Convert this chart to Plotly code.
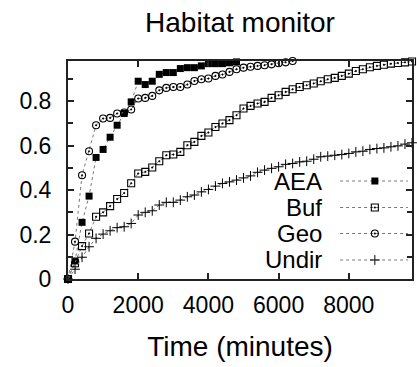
import plotly.graph_objects as go

TIME = [0, 200, 400, 600, 800, 1000, 1200, 1400, 1600, 1800,
        2000, 2200, 2400, 2600, 2800, 3000, 3200, 3400, 3600, 3800,
        4000, 4200, 4400, 4600, 4800, 5000, 5200, 5400, 5600, 5800,
        6000, 6200, 6400, 6600, 6800, 7000, 7200, 7400, 7600, 7800,
        8000, 8200, 8400, 8600, 8800, 9000, 9200, 9400, 9600, 9800]

AEA = [0, 0.081, 0.255, 0.373, 0.547, 0.583, 0.638, 0.692, 0.745, 0.797,
       0.890, 0.875, 0.890, 0.921, 0.929, 0.929, 0.947, 0.951, 0.951, 0.959,
       0.969, 0.969, 0.969, 0.973, 0.977]

GEO = [0, 0.168, 0.467, 0.575, 0.692, 0.722, 0.725, 0.745, 0.749, 0.763,
       0.812, 0.815, 0.824, 0.849, 0.860, 0.864, 0.864, 0.875, 0.891, 0.899,
       0.902, 0.914, 0.920, 0.932, 0.944, 0.951, 0.955, 0.959, 0.962, 0.966,
       0.971, 0.975, 0.981]

BUF = [0, 0.071, 0.148, 0.205, 0.280, 0.300, 0.328, 0.360, 0.387, 0.431,
       0.475, 0.482, 0.502, 0.530, 0.557, 0.560, 0.572, 0.602, 0.617, 0.644,
       0.659, 0.684, 0.700, 0.715, 0.737, 0.767, 0.779, 0.790, 0.797, 0.815,
       0.827, 0.842, 0.854, 0.864, 0.872, 0.880, 0.890, 0.899, 0.905, 0.914,
       0.924, 0.936, 0.944, 0.953, 0.959, 0.964, 0.969, 0.972, 0.975, 0.979]

UNDIR = [0, 0.044, 0.098, 0.145, 0.183, 0.202, 0.217, 0.231, 0.235, 0.250,
         0.288, 0.300, 0.307, 0.333, 0.345, 0.345, 0.355, 0.370, 0.378, 0.392,
         0.403, 0.418, 0.430, 0.437, 0.445, 0.455, 0.464, 0.480, 0.490, 0.498,
         0.505, 0.516, 0.520, 0.527, 0.530, 0.539, 0.550, 0.553, 0.557, 0.560,
         0.565, 0.572, 0.575, 0.583, 0.587, 0.590, 0.595, 0.599, 0.607, 0.613]

NAMES = ["AEA", "Buf", "Geo", "Undir"]
SERIES = [AEA, BUF, GEO, UNDIR]
X_TICKS = [0, 2000, 4000, 6000, 8000]
Y_TICKS = [0, 0.2, 0.4, 0.6, 0.8]

FONT = "Liberation Sans, Arial, Helvetica, sans-serif"
LINE_COLOR = "#777777"
MARKERS = [
    dict(symbol="square", size=7, color="black", line=dict(width=0)),
    dict(symbol="square-open-dot", size=7, color="black", line=dict(width=1.1)),
    dict(symbol="circle-open-dot", size=7, color="black", line=dict(width=1.1)),
    dict(symbol="cross-thin-open", size=7, color="black", line=dict(width=1.0, color="black")),
]

fig = go.Figure()
for name, vals, mk in zip(NAMES, SERIES, MARKERS):
    fig.add_trace(go.Scatter(
        x=TIME[:len(vals)], y=vals, name=name, mode="lines+markers",
        line=dict(color=LINE_COLOR, width=1, dash="dot"),
        marker=mk, cliponaxis=False, showlegend=False,
    ))

# manual gnuplot-style key: right-aligned text, sample on its right
key_rows = [0.4495, 0.328, 0.2087, 0.0872]
key_text_x = 0.743
key_x = [0.791, 0.892, 0.988]
for name, mk, ry in zip(NAMES, MARKERS, key_rows):
    fig.add_trace(go.Scatter(
        x=key_x, y=[ry, ry, ry], xaxis="x2", yaxis="y2", mode="lines+markers",
        line=dict(color=LINE_COLOR, width=1, dash="dot"),
        marker=dict(mk, opacity=[0, 1, 0]), showlegend=False, cliponaxis=False,
        hoverinfo="skip",
    ))
    fig.add_annotation(x=key_text_x, y=ry, xref="paper", yref="paper",
                       text=name, showarrow=False, xanchor="right", yanchor="middle",
                       font=dict(family=FONT, size=24, color="black"))

ymax = max(max(s) for s in SERIES)

axis_common = dict(
    showline=True, linecolor="#222222", linewidth=2, mirror="ticks",
    ticks="inside", tickcolor="#222222", tickwidth=1.5, ticklen=6,
    showgrid=False, zeroline=False,
    tickfont=dict(family=FONT, size=23, color="black"),
)

fig.update_layout(
    width=417, height=367,
    margin=dict(l=68, r=3, t=61, b=88),
    paper_bgcolor="white", plot_bgcolor="white",
    title=dict(text="Habitat monitor", x=0.5, xref="paper", y=1 - 22 / 367,
               yref="container", xanchor="center", yanchor="middle",
               font=dict(family=FONT, size=28, color="black")),
    xaxis=dict(axis_common, range=[0, TIME[-1]], tickvals=X_TICKS, tickformat="d",
               title=dict(text="Time (minutes)", standoff=20,
                          font=dict(family=FONT, size=28, color="black")),
               ticklabelstandoff=4),
    yaxis=dict(axis_common, range=[0, ymax], tickvals=Y_TICKS,
               ticktext=[str(v) for v in Y_TICKS],
               minor=dict(dtick=0.1, ticks="inside", ticklen=5, tickcolor="#222222",
                          tickwidth=1.5, tick0=0),
               ticklabelstandoff=10),
    xaxis2=dict(overlaying="x", range=[0, 1], visible=False, anchor="y2"),
    yaxis2=dict(overlaying="y", range=[0, 1], visible=False, anchor="x2"),
    font=dict(family=FONT, color="black"),
)

fig.write_html("out.html")
